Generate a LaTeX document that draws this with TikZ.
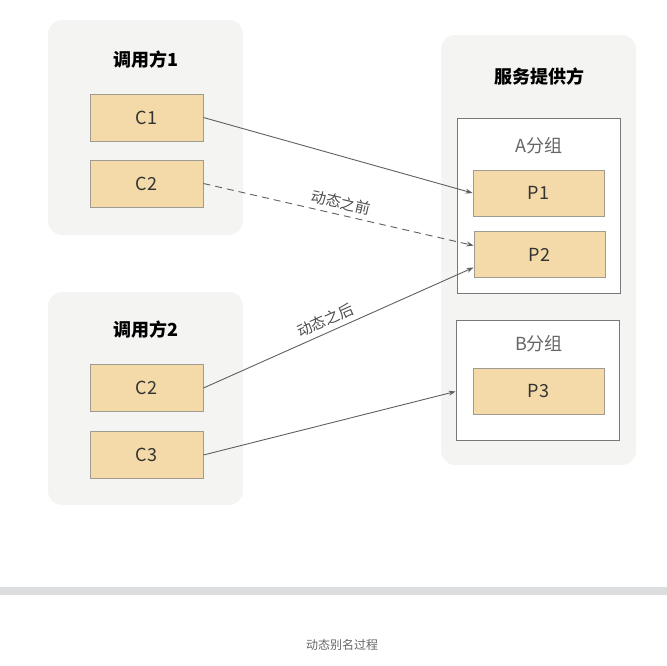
\documentclass[tikz,border=0pt]{standalone}
\usepackage{fontspec}
\setmainfont{Noto Sans CJK SC}
\usepackage{tikz}
\usetikzlibrary{arrows.meta,positioning,calc}
\definecolor{panelgray}{RGB}{244, 244, 242}
\definecolor{boxfill}{RGB}{243, 218, 168}
\definecolor{boxline}{RGB}{160, 155, 145}
\definecolor{grpline}{RGB}{120, 120, 120}
\definecolor{linkgray}{RGB}{95, 95, 95}
\definecolor{bargray}{RGB}{220, 221, 223}

\begin{document}
\begin{tikzpicture}[
  x=1pt, y=-1pt,
  every node/.style={font=\fontsize{18}{20}\selectfont}
]
  % Styles
  \tikzstyle{panel} = [rectangle, rounded corners=14pt, fill=panelgray, minimum width=195pt, inner sep=0pt]
  \tikzstyle{group} = [rectangle, draw=grpline, line width=0.9pt, fill=white, minimum width=163pt, inner sep=0pt]
  \tikzstyle{cbox} = [rectangle, draw=boxline, line width=0.9pt, fill=boxfill, minimum width=113pt, minimum height=47pt, text=black!80]
  \tikzstyle{pbox} = [cbox, minimum width=131pt, minimum height=46pt]
  \tikzstyle{title} = [font=\fontsize{18}{20}\selectfont\bfseries]
  \tikzstyle{link} = [-{Stealth[length=7pt,width=5pt]}, draw=linkgray, line width=0.9pt]
  \tikzstyle{tag} = [font=\fontsize{15}{17}\selectfont, text=black!70, inner sep=1pt]

  \useasboundingbox (0,0) rectangle (667,665);

  % Callers
  \node[panel, minimum height=215pt] (caller1) at (145.5,127.5) {};
  \node[title] (title1) at (146,60) {调用方1};
  \node[cbox] (c1) at (146.5,117.5) {C1};
  \node[cbox] (c2) at (146.5,183.5) {C2};

  \node[panel, minimum height=213pt] (caller2) at (145.5,398.5) {};
  \node[title] (title2) at (146,330) {调用方2};
  \node[cbox] (c2b) at (146.5,388) {C2};
  \node[cbox] (c3) at (146.5,455) {C3};

  % Provider
  \node[panel, minimum height=430pt] (provider) at (538.5,250) {};
  \node[title] (title3) at (539,77) {服务提供方};
  \node[group, minimum height=175pt] (grpa) at (538.5,205.5) {};
  \node[text=black!60] (namea) at (539,146) {A分组};
  \node[pbox] (p1) at (538.5,193) {P1};
  \node[pbox] (p2) at (539.5,254.5) {P2};
  \node[group, minimum height=120pt] (grpb) at (537.5,380) {};
  \node[text=black!60] (nameb) at (539,344) {B分组};
  \node[pbox] (p3) at (538.5,391.5) {P3};

  % Links
  \draw[link] (c1.east) -- (p1.west);
  \draw[link, dashed, dash pattern=on 7pt off 5pt] (c2.east) -- node[tag, sloped, above=4pt, pos=0.5] {动态之前} ([yshift=9pt]p2.west);
  \draw[link] (c2b.east) -- node[tag, sloped, above=4pt, pos=0.47] {动态之后} ([yshift=-13pt]p2.west);
  \draw[link] (c3.east) -- (grpb.west |- p3.west);

  % Caption
  \fill[bargray] (0,587) rectangle (667,595);
  \node[font=\fontsize{12}{14}\selectfont, text=black!60] (caption) at (342,645) {动态别名过程};
\end{tikzpicture}
\end{document}
